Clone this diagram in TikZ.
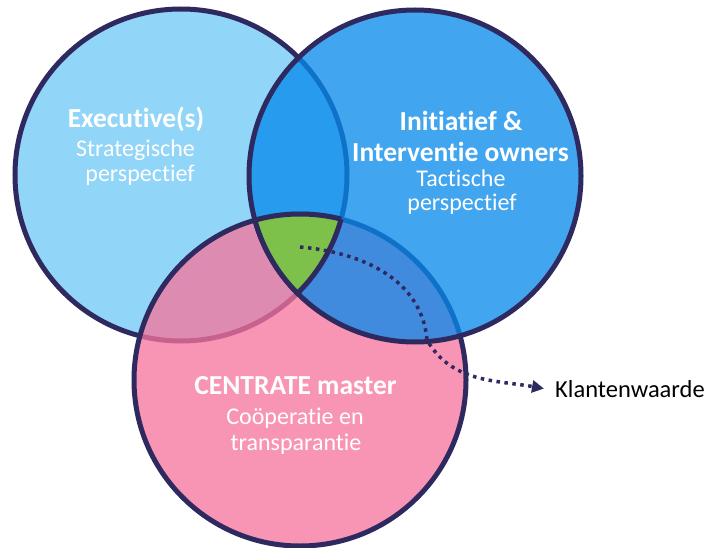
\documentclass[tikz,border=0pt]{standalone}
\usepackage{fontspec}
\setmainfont[RawFeature={-liga;-clig;-dlig}]{Carlito}
\usetikzlibrary{arrows.meta}
\definecolor{outl}{RGB}{46,42,95}
\definecolor{lblue}{RGB}{145,213,248}
\definecolor{mblue}{RGB}{6,137,235}
\definecolor{pinkc}{RGB}{247,116,156}
\definecolor{greenc}{RGB}{125,193,75}
\begin{document}
\begin{tikzpicture}[x=1pt,y=-1pt,
  ring/.style={line width=5pt, draw=outl},
  ttl/.style={text=white,font=\bfseries\fontsize{27.5}{30}\selectfont,anchor=base,inner sep=0pt},
  sub/.style={text=white,font=\fontsize{24}{27}\selectfont,anchor=base,inner sep=0pt},
  lbl/.style={text=black,font=\fontsize{24.5}{28}\selectfont,anchor=base west,inner sep=0pt},
  dotarrow/.style={draw=outl,line width=3.5pt,dash pattern=on 3.5pt off 4.5pt,
    -{Triangle[length=12pt,width=12pt]}}]
\useasboundingbox (0,0) rectangle (709,548);
\coordinate (cL) at (181,175);
\coordinate (cR) at (415,176);
\coordinate (cB) at (300,380);
\def\rr{166pt}
% left circle
\fill[lblue] (cL) circle[radius=\rr];
\draw[ring] (cL) circle[radius=\rr];
% bottom circle
\fill[pinkc, fill opacity=0.76] (cB) circle[radius=\rr];
\draw[ring] (cB) circle[radius=\rr];
% right circle
\fill[mblue, fill opacity=0.76] (cR) circle[radius=\rr];
\draw[ring] (cR) circle[radius=\rr];
% centre region
\begin{scope}
  \clip (cL) circle[radius=\rr];
  \clip (cR) circle[radius=\rr];
  \fill[greenc] (cB) circle[radius=\rr];
  \draw[ring] (cB) circle[radius=\rr];
\end{scope}
\begin{scope}
  \clip (cB) circle[radius=\rr];
  \clip (cR) circle[radius=\rr];
  \draw[ring] (cL) circle[radius=\rr];
\end{scope}
\begin{scope}
  \clip (cB) circle[radius=\rr];
  \clip (cL) circle[radius=\rr];
  \draw[ring] (cR) circle[radius=\rr];
\end{scope}
% texts
\node[ttl] (t1) at (136,128) {Executive(s)};
\node[sub] (t1a) at (135.5,157) {Strategische};
\node[sub] (t1b) at (140,182) {perspectief};
\node[ttl] (t2) at (461,131) {Initiatief \&};
\node[ttl] (t2x) at (460.5,162) {Interventie owners};
\node[sub] (t2a) at (461,187) {Tactische};
\node[sub] (t2b) at (462,211) {perspectief};
\node[ttl] (t3) at (295.5,394) {CENTRATE master};
\node[sub] (t3a) at (295,424) {Coöperatie en};
\node[sub] (t3b) at (296,450) {transparantie};
\node[lbl] (k) at (555,397) {Klantenwaarde};
% dotted arrow
\coordinate (s) at (300,247);
\coordinate (m) at (427,340);
\draw[dotarrow] (s) to[out=-5,in=95] (m) to[out=-60,in=170] ([xshift=-11pt]k.west);
\end{tikzpicture}
\end{document}
